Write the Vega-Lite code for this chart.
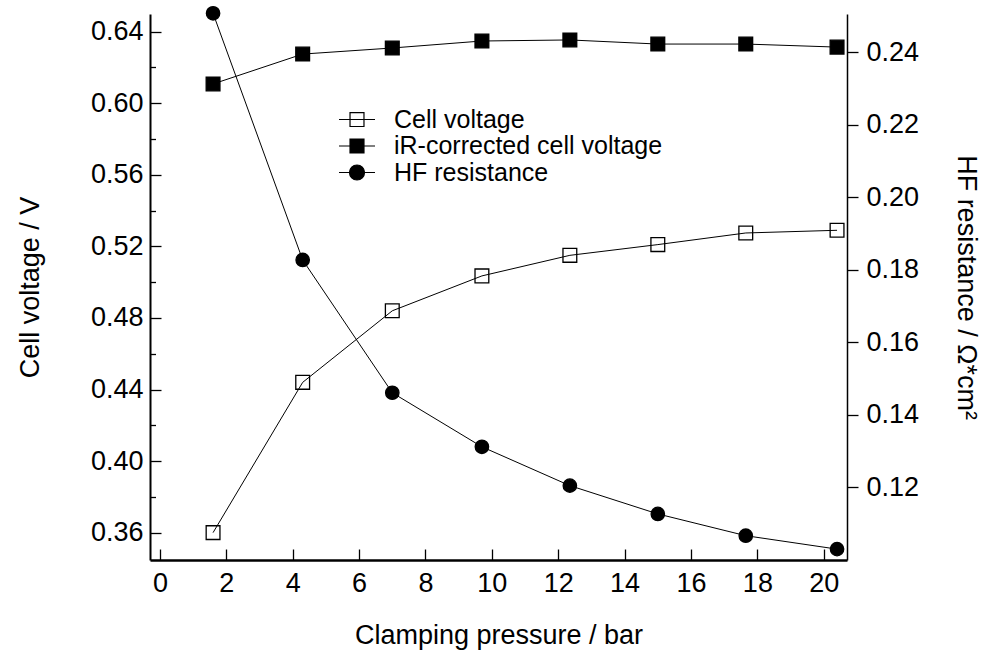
{
  "$schema": "https://vega.github.io/schema/vega-lite/v6.json",
  "width": 697,
  "height": 546,
  "autosize": {"type": "none"},
  "padding": {"left": 150, "top": 14, "right": 150, "bottom": 99},
  "background": "white",
  "config": {
    "view": {"stroke": null},
    "font": "Liberation Sans",
    "axis": {
      "grid": false,
      "domainColor": "black",
      "tickColor": "black",
      "labelColor": "black",
      "titleColor": "black",
      "labelFont": "Liberation Sans",
      "titleFont": "Liberation Sans",
      "labelFontSize": 27,
      "titleFontSize": 27,
      "titleFontWeight": "normal",
      "labelOverlap": false
    }
  },
  "data": {
    "values": [
      {"x": 1.6, "series": "Cell voltage", "value": 0.360},
      {"x": 4.3, "series": "Cell voltage", "value": 0.444},
      {"x": 7.0, "series": "Cell voltage", "value": 0.484},
      {"x": 9.7, "series": "Cell voltage", "value": 0.5035},
      {"x": 12.35, "series": "Cell voltage", "value": 0.515},
      {"x": 15.0, "series": "Cell voltage", "value": 0.521},
      {"x": 17.65, "series": "Cell voltage", "value": 0.5275},
      {"x": 20.4, "series": "Cell voltage", "value": 0.529},
      {"x": 1.6, "series": "iR-corrected cell voltage", "value": 0.6108},
      {"x": 4.3, "series": "iR-corrected cell voltage", "value": 0.6275},
      {"x": 7.0, "series": "iR-corrected cell voltage", "value": 0.6309},
      {"x": 9.7, "series": "iR-corrected cell voltage", "value": 0.6348},
      {"x": 12.35, "series": "iR-corrected cell voltage", "value": 0.6354},
      {"x": 15.0, "series": "iR-corrected cell voltage", "value": 0.6331},
      {"x": 17.65, "series": "iR-corrected cell voltage", "value": 0.6331},
      {"x": 20.4, "series": "iR-corrected cell voltage", "value": 0.6314},
      {"x": 1.6, "series": "HF resistance", "value": 0.2507},
      {"x": 4.3, "series": "HF resistance", "value": 0.1827},
      {"x": 7.0, "series": "HF resistance", "value": 0.1461},
      {"x": 9.7, "series": "HF resistance", "value": 0.1312},
      {"x": 12.35, "series": "HF resistance", "value": 0.1205},
      {"x": 15.0, "series": "HF resistance", "value": 0.1127},
      {"x": 17.65, "series": "HF resistance", "value": 0.1067},
      {"x": 20.4, "series": "HF resistance", "value": 0.1030}
    ]
  },
  "encoding": {
    "x": {
      "field": "x",
      "type": "quantitative",
      "scale": {"domain": [-0.3, 20.7], "nice": false, "zero": false},
      "axis": {
        "title": "Clamping pressure / bar",
        "values": [0, 2, 4, 6, 8, 10, 12, 14, 16, 18, 20],
        "format": "d",
        "tickSize": -11,
        "labelPadding": 21,
        "titlePadding": 26,
        "domainWidth": 2.5,
        "tickWidth": 1.3
      }
    }
  },
  "layer": [
    {
      "transform": [{"filter": "datum.series !== 'HF resistance'"}],
      "encoding": {
        "y": {
          "field": "value",
          "type": "quantitative",
          "scale": {"domain": [0.3447, 0.6499], "nice": false, "zero": false},
          "axis": {
            "orient": "left",
            "title": "Cell voltage / V",
            "values": [0.36, 0.38, 0.40, 0.42, 0.44, 0.46, 0.48, 0.50, 0.52, 0.54, 0.56, 0.58, 0.60, 0.62, 0.64],
            "labelExpr": "round(datum.value * 100) % 4 === 0 ? format(datum.value, '.2f') : ''",
            "tickSize": {"condition": {"test": "round(datum.value * 100) % 4 === 0", "value": -11}, "value": -5.5},
            "labelPadding": 18,
            "titlePadding": 46,
            "domainWidth": 2,
            "tickWidth": 1.3
          }
        }
      },
      "layer": [
        {
          "mark": {"type": "line", "color": "black", "strokeWidth": 1},
          "encoding": {"detail": {"field": "series"}}
        },
        {
          "transform": [{"filter": "datum.series === 'Cell voltage'"}],
          "mark": {"type": "point", "shape": "square", "filled": false, "fill": "transparent", "stroke": "black", "strokeWidth": 1.3, "size": 190, "opacity": 1}
        },
        {
          "transform": [{"filter": "datum.series === 'iR-corrected cell voltage'"}],
          "mark": {"type": "point", "shape": "square", "filled": true, "fill": "black", "stroke": "black", "strokeWidth": 1.3, "size": 190, "opacity": 1}
        },
        {
          "transform": [{"filter": "false"}],
          "mark": {"type": "point", "filled": true, "strokeWidth": 1.2, "opacity": 1},
          "encoding": {
            "fill": {
              "field": "series",
              "type": "nominal",
              "scale": {"domain": ["Cell voltage", "iR-corrected cell voltage", "HF resistance"], "range": ["transparent", "black", "black"]}
            },
            "stroke": {
              "field": "series",
              "type": "nominal",
              "scale": {"domain": ["Cell voltage", "iR-corrected cell voltage", "HF resistance"], "range": ["black", "black", "black"]}
            },
            "shape": {
              "field": "series",
              "type": "nominal",
              "scale": {
                "domain": ["Cell voltage", "iR-corrected cell voltage", "HF resistance"],
                "range": [
                  "M-2.4,0H2.4M-0.93,-0.93H0.93V0.93H-0.93Z",
                  "M-2.4,0H2.4M-0.93,-0.93H0.93V0.93H-0.93Z",
                  "M-2.4,0H2.4M1,0A1,1 0 1,1 -1,0A1,1 0 1,1 1,0Z"
                ]
              },
              "legend": {
                "title": null,
                "orient": "none",
                "legendX": 194.5,
                "legendY": 93,
                "padding": 0,
                "symbolSize": 225,
                "symbolStrokeWidth": 1.2,
                "labelFont": "Liberation Sans",
                "labelFontSize": 25,
                "labelColor": "black",
                "labelOffset": 24.5,
                "rowPadding": 0.5,
                "labelLimit": 500
              }
            }
          }
        }
      ]
    },
    {
      "transform": [{"filter": "datum.series === 'HF resistance'"}],
      "encoding": {
        "y": {
          "field": "value",
          "type": "quantitative",
          "scale": {"domain": [0.1, 0.2505], "nice": false, "zero": false},
          "axis": {
            "orient": "right",
            "title": "HF resistance / Ω*cm²",
            "values": [0.12, 0.14, 0.16, 0.18, 0.20, 0.22, 0.24],
            "format": ".2f",
            "tickSize": 11,
            "labelPadding": 8,
            "titlePadding": 33,
            "domainWidth": 1.5,
            "tickWidth": 1.3
          }
        }
      },
      "layer": [
        {
          "mark": {"type": "line", "color": "black", "strokeWidth": 1},
          "encoding": {"detail": {"field": "series"}}
        },
        {
          "mark": {"type": "point", "shape": "circle", "filled": true, "fill": "black", "stroke": "black", "strokeWidth": 1.3, "size": 180, "opacity": 1, "clip": false}
        }
      ]
    }
  ],
  "resolve": {"scale": {"y": "independent"}}
}
